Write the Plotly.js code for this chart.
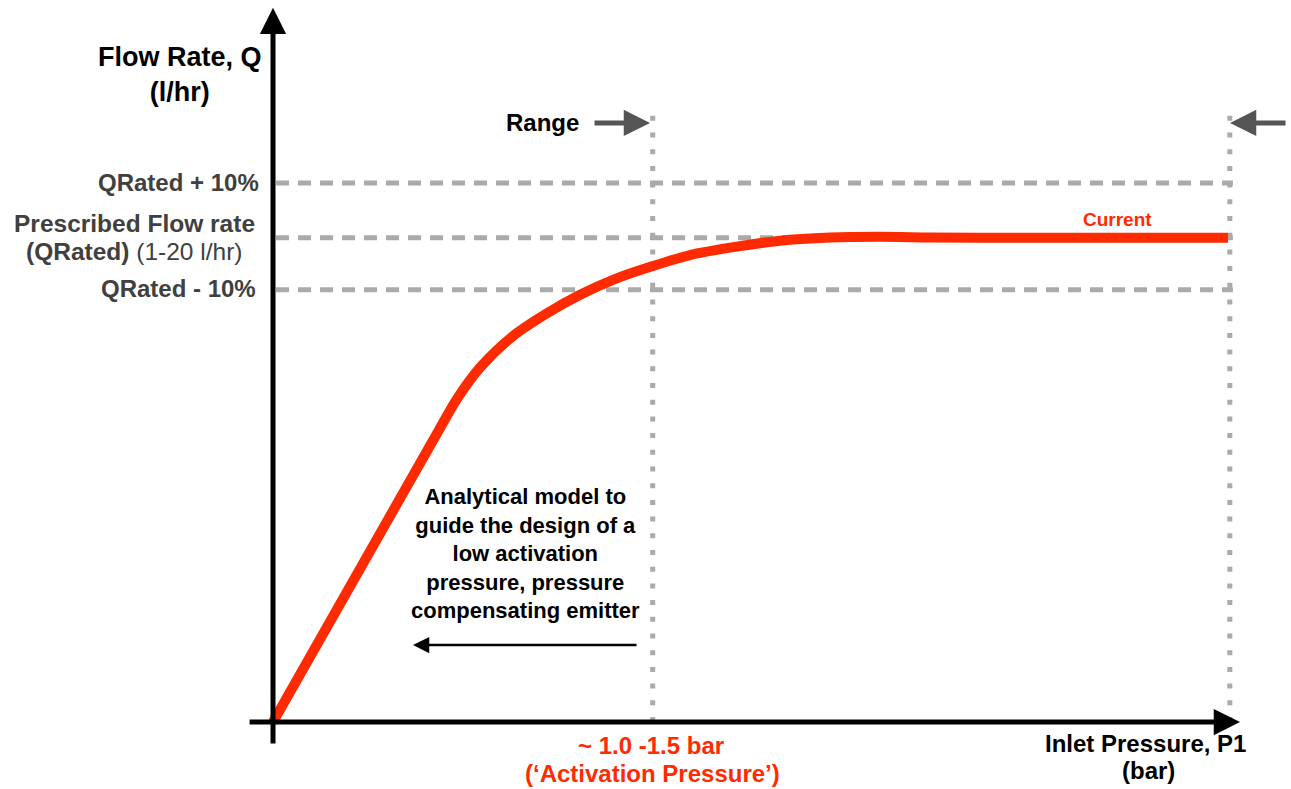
<!DOCTYPE html>
<html>
<head>
<meta charset="utf-8">
<script src="https://cdn.plot.ly/plotly-3.0.1.min.js"></script>
<style>
  html, body { margin: 0; padding: 0; background: #ffffff; }
  #chart { width: 1291px; height: 789px; }
</style>
</head>
<body>
<div id="chart"></div>
<script>
// ---- Data (schematic values) ----
// Inlet pressure (bar) along the curve
var pressure = [0, 0.550, 0.606, 0.682, 0.790, 0.902, 1.011, 1.119, 1.248, 1.396, 1.669, 1.834, 1.998, 2.163, 2.328, 3.144];
// Flow rate (schematic units) along the curve
var flow = [0, 41.3, 45.4, 49.8, 54.2, 57.4, 60.0, 62.1, 64.0, 65.8, 67.6, 68.05, 68.15, 68.05, 68.0, 68.0];

// Reference flow levels: QRated + 10%, QRated, QRated - 10%
var flowLevels = [75.7, 68.0, 60.7];
var flowLevelLabels = ['QRated + 10%', 'Prescribed Flow rate', 'QRated - 10%'];

// Pressure range bounds (activation pressure, upper bound)
var rangeBounds = [1.25, 3.15];

var seriesName = 'Current';
var xTitle = ['Inlet Pressure, P1', '(bar)'];
var yTitle = ['Flow Rate, Q', '(l/hr)'];
var activationLabel = ['~ 1.0 -1.5 bar', '(\u2018Activation Pressure\u2019)'];
var noteText = 'Analytical model to<br>guide the design of a<br>low activation<br>pressure, pressure<br>compensating emitter';

// ---- Styling ----
var RED = '#ff2a00';
var GRAY = '#aaaaaa';
var DARK = '#404040';
var ARROWGRAY = '#555555';
var FONT = 'Liberation Sans, Arial, Helvetica, sans-serif';

var traces = [{
  type: 'scatter',
  mode: 'lines',
  x: pressure,
  y: flow,
  name: seriesName,
  line: { color: RED, width: 10, shape: 'spline', smoothing: 0.8 },
  hoverinfo: 'skip'
}];

var shapes = [];
// dashed horizontal reference levels
flowLevels.forEach(function (lv) {
  shapes.push({
    type: 'line', layer: 'below', xref: 'x', yref: 'y',
    x0: 0.01, x1: 3.16, y0: lv, y1: lv,
    line: { color: GRAY, width: 5, dash: '13px,9px' }
  });
});
// dotted vertical range bounds
rangeBounds.forEach(function (b) {
  shapes.push({
    type: 'line', layer: 'below', xref: 'x', yref: 'y',
    x0: b, x1: b, y0: 0, y1: 85.4,
    line: { color: GRAY, width: 5, dash: '5px,11.7px' }
  });
});

function txt(text, x, y, opts) {
  var a = {
    xref: 'x', yref: 'y', x: x, y: y, text: text, showarrow: false,
    xanchor: 'center', yanchor: 'middle',
    font: { family: FONT, size: 24, color: '#000000' }
  };
  for (var k in opts) {
    if (k === 'font') { for (var f in opts.font) a.font[f] = opts.font[f]; }
    else a[k] = opts[k];
  }
  return a;
}

function arrow(xTail, yTail, xTip, yTip, color, width, head, size) {
  return {
    xref: 'x', yref: 'y', axref: 'x', ayref: 'y',
    x: xTip, y: yTip, ax: xTail, ay: yTail,
    text: '', showarrow: true,
    arrowhead: head, arrowsize: size, arrowwidth: width, arrowcolor: color,
    standoff: 0, startstandoff: 0
  };
}

var annotations = [
  // axes drawn as arrows
  arrow(0, -3.23, 0, 100.3, '#000000', 5, 2, 1.05),
  arrow(-0.082, 0, 3.1835, 0, '#000000', 5, 2, 1.05),

  // axis titles
  txt('<b>' + yTitle[0] + '<br>' + yTitle[1] + '</b>', -0.3078, 90.9, { font: { size: 27 } }),
  txt('<b>' + xTitle[0] + '</b>', 2.874, -2.95, {}),
  txt('<b>' + xTitle[1] + '</b>', 2.881, -6.80, {}),

  // flow level labels
  txt('<b>' + flowLevelLabels[0] + '</b>', -0.0395, flowLevels[0], { xanchor: 'right', font: { color: DARK } }),
  txt('<b>' + flowLevelLabels[1] + '</b>', -0.4576, 69.95, { font: { color: DARK, size: 24.5 } }),
  txt('<b>(QRated)</b> (1-20 l/hr)', -0.4576, 66.05, { font: { color: DARK, size: 24.5 } }),
  txt('<b>' + flowLevelLabels[2] + '</b>', -0.0494, 60.88, { xanchor: 'right', font: { color: DARK } }),

  // range labels and arrows
  txt('<b>Range</b>', 0.8860, 84.13, {}),
  arrow(1.0535, 84.13, 1.2412, 84.13, ARROWGRAY, 5, 2, 1.05),
  arrow(3.3383, 84.13, 3.1506, 84.13, ARROWGRAY, 5, 2, 1.05),

  // series label
  txt('<b>' + seriesName + '</b>', 2.7786, 70.51, { font: { size: 19, color: RED } }),

  // note text and arrow
  txt('<b>' + noteText + '</b>', 0.8313, 23.6, { font: { size: 22 } }),
  arrow(1.2016, 10.81, 0.4609, 10.81, '#000000', 2.5, 2, 1.3),

  // activation pressure label
  txt('<b>' + activationLabel[0] + '</b>', 1.2444, -3.37, { font: { color: RED } }),
  txt('<b>' + activationLabel[1] + '</b>', 1.2477, -7.30, { font: { color: RED } })
];

var layout = {
  width: 1291, height: 789,
  margin: { l: 0, r: 0, t: 0, b: 0, pad: 0 },
  paper_bgcolor: '#ffffff', plot_bgcolor: '#ffffff',
  showlegend: false,
  font: { family: FONT },
  xaxis: { visible: false, range: [-0.8988, 3.3514], fixedrange: true },
  yaxis: { visible: false, range: [-9.41, 101.4], fixedrange: true },
  shapes: shapes,
  annotations: annotations
};

Plotly.newPlot('chart', traces, layout, { displayModeBar: false, staticPlot: true });
</script>
</body>
</html>
